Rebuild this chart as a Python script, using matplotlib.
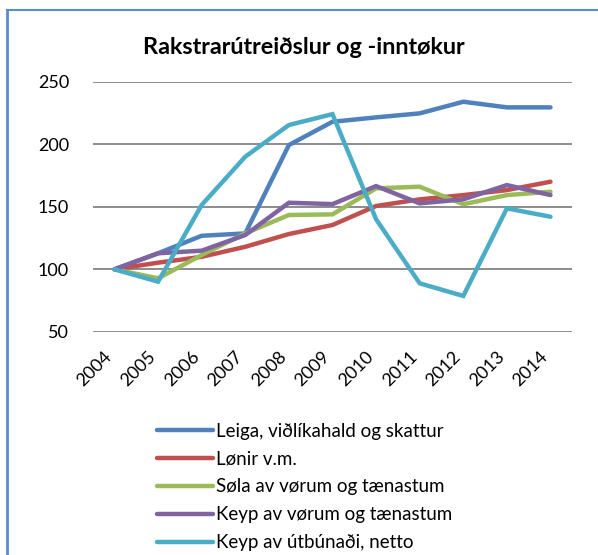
import matplotlib
matplotlib.use("Agg")
import matplotlib.pyplot as plt
import matplotlib.transforms as mtrans
from matplotlib.lines import Line2D

plt.rcParams['font.family'] = ['Lato', 'DejaVu Sans']

# data
years = ["2004", "2005", "2006", "2007", "2008", "2009", "2010", "2011", "2012", "2013", "2014"]
leiga = [100, 112.8, 126.8, 128.7, 199.3, 217.9, 221.4, 224.6, 233.9, 229.4, 229.4]
lonir = [100, 105.3, 110, 118, 128.2, 135.4, 150.6, 155.9, 159.3, 163.3, 170]
sola = [100, 92.8, 111.4, 128.7, 143.4, 143.9, 164.7, 166, 152, 159.3, 162]
keyp_vorur = [100, 112.8, 114.9, 127.4, 153.2, 152.1, 166.5, 152.7, 155.9, 167.3, 159.3]
keyp_utbunad = [100, 90.1, 151.4, 190, 215.3, 224, 140, 88.8, 78.7, 148.7, 142]

labels = ["Leiga, viðlíkahald og skattur", "Lønir v.m.", "Søla av vørum og tænastum",
          "Keyp av vørum og tænastum", "Keyp av útbúnaði, netto"]
colors = ["#4F81BD", "#C0504D", "#9BBB59", "#8064A2", "#4BACC6"]
series = [leiga, lonir, sola, keyp_vorur, keyp_utbunad]

fig = plt.figure(figsize=(5.98, 5.55), dpi=100)
ax = fig.add_axes([0.155, 0.402, 0.802, 0.451])

x = range(len(years))
for vals, lab, col in zip(series, labels, colors):
    ax.plot(x, vals, color=col, lw=3.2, label=lab, solid_capstyle='round', solid_joinstyle='miter')

ax.set_xlim(-0.5, len(years) - 0.5)
ax.set_ylim(50, 250)
ax.set_yticks([50, 100, 150, 200, 250])
ax.set_xticks(list(x))
ax.set_xticklabels(years, rotation=45, ha='right', va='center', rotation_mode='anchor')
ax.tick_params(axis='both', length=0, labelsize=13, colors='black')
ax.tick_params(axis='y', pad=17)
ax.tick_params(axis='x', pad=16)
# shift year labels a little to the left, like the original
shift = mtrans.ScaledTranslation(-5 / 100, 0, fig.dpi_scale_trans)
for t in ax.get_xticklabels():
    t.set_transform(t.get_transform() + shift)
ax.yaxis.grid(True, color='#8C8C8C', lw=1.4)
ax.set_axisbelow(True)
for s in ax.spines.values():
    s.set_visible(False)

fig.text(0.508, 0.915, "Rakstrarútreiðslur og -inntøkur", ha='center', va='center',
         fontsize=16.8, fontweight='bold')

leg = fig.legend(loc='upper left', bbox_to_anchor=(0.25, 0.252), frameon=False,
                 fontsize=13.5, handlelength=3.0, handletextpad=0.16, labelspacing=0.58,
                 borderaxespad=0)

# chart border (top and left visible)
fig.add_artist(Line2D([0.012, 1.0], [1 - 10 / 555, 1 - 10 / 555], transform=fig.transFigure,
                      color='#5B8BCB', lw=1.5))
fig.add_artist(Line2D([0.012, 0.012], [0, 1 - 10 / 555], transform=fig.transFigure,
                      color='#5B8BCB', lw=2))

fig.savefig("out.png", dpi=100)
